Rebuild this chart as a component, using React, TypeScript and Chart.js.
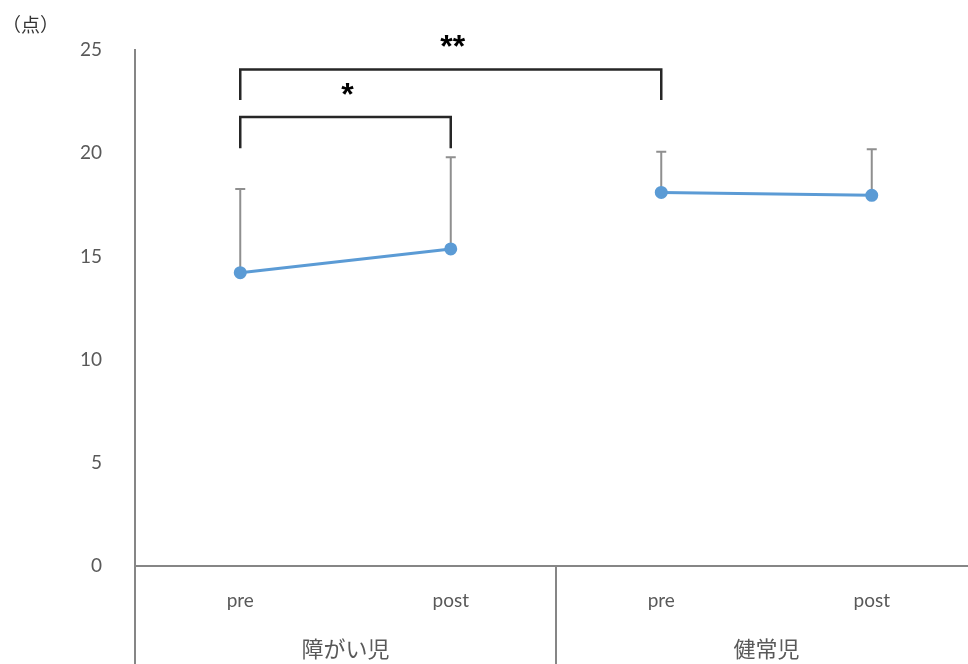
import React, { useEffect, useRef } from 'react';
import { Chart, registerables } from 'chart.js';

Chart.register(...registerables);

const categories = ['pre', 'post', 'pre', 'post'];
const groupLabels = ['障がい児', '健常児'];
const means = [14.21, 15.36, 18.1, 17.96];
const sdUpper = [4.06, 4.44, 1.97, 2.23];
const yMin = 0;
const yMax = 25;
const yStep = 5;
const bracketFrom = [0, 0];
const bracketTo = [2, 1];
const bracketTop = [24.05, 21.75];
const bracketLegEnd = [22.58, 20.24];
const bracketMarks = ['**', '*'];
const unitLabel = '（点）';

const disabledSeries = means.map((v, i) => (i < 2 ? v : null));
const typicalSeries = means.map((v, i) => (i >= 2 ? v : null));

const BLUE = '#5b9bd5';
const AXIS = '#868686';
const TEXT = '#595959';
const CANVAS_W = 985;
const CANVAS_H = 664;

const overlayPlugin = {
  id: 'overlay',
  beforeDatasetsDraw(chart: any) {
    const { ctx, scales } = chart;
    const x = scales.x;
    const y = scales.y;
    ctx.save();
    ctx.strokeStyle = '#8f8f8f';
    ctx.lineWidth = 2;
    means.forEach((m, i) => {
      const px = x.getPixelForValue(i);
      const py0 = y.getPixelForValue(m);
      const py1 = y.getPixelForValue(m + sdUpper[i]);
      ctx.beginPath();
      ctx.moveTo(px, py0);
      ctx.lineTo(px, py1);
      ctx.moveTo(px - 5, py1);
      ctx.lineTo(px + 5, py1);
      ctx.stroke();
    });
    ctx.restore();
  },
  afterDraw(chart: any) {
    const { ctx, scales, chartArea, height } = chart;
    const x = scales.x;
    const y = scales.y;
    ctx.save();
    ctx.strokeStyle = AXIS;
    ctx.lineWidth = 2;
    ctx.beginPath();
    ctx.moveTo(chartArea.left, chartArea.bottom);
    ctx.lineTo(chartArea.left, height);
    const divX = (x.getPixelForValue(1) + x.getPixelForValue(2)) / 2;
    ctx.moveTo(divX, chartArea.bottom);
    ctx.lineTo(divX, height);
    ctx.stroke();

    ctx.fillStyle = TEXT;
    ctx.font = '22px "Noto Sans CJK JP"';
    ctx.textAlign = 'center';
    ctx.textBaseline = 'middle';
    groupLabels.forEach((g, gi) => {
      const cx = (x.getPixelForValue(gi * 2) + x.getPixelForValue(gi * 2 + 1)) / 2;
      ctx.fillText(g, cx, chartArea.bottom + 83);
    });

    ctx.strokeStyle = '#262626';
    ctx.lineWidth = 2.5;
    bracketFrom.forEach((f, i) => {
      const x0 = x.getPixelForValue(f);
      const x1 = x.getPixelForValue(bracketTo[i]);
      const yt = y.getPixelForValue(bracketTop[i]);
      const yb = y.getPixelForValue(bracketLegEnd[i]);
      ctx.beginPath();
      ctx.moveTo(x0, yb);
      ctx.lineTo(x0, yt);
      ctx.lineTo(x1, yt);
      ctx.lineTo(x1, yb);
      ctx.stroke();
      ctx.fillStyle = '#000000';
      ctx.font = 'bold 32px "Liberation Sans"';
      ctx.textAlign = 'center';
      ctx.textBaseline = 'middle';
      ctx.fillText(bracketMarks[i], (x0 + x1) / 2 + 2, yt - 21);
    });

    ctx.fillStyle = '#333333';
    ctx.font = '19px "Noto Sans CJK JP"';
    ctx.textAlign = 'left';
    ctx.textBaseline = 'middle';
    ctx.fillText(unitLabel, 2, 25);
    ctx.restore();
  },
};

export default function App() {
  const canvasRef = useRef<HTMLCanvasElement | null>(null);

  useEffect(() => {
    const canvas = canvasRef.current;
    if (!canvas) return;
    const chart = new Chart(canvas, {
      type: 'line',
      data: {
        labels: categories,
        datasets: [
          {
            label: '障がい児',
            data: disabledSeries,
            borderColor: BLUE,
            backgroundColor: BLUE,
            borderWidth: 3,
            pointRadius: 5,
            pointHoverRadius: 5,
            pointBackgroundColor: BLUE,
            pointBorderColor: BLUE,
            spanGaps: false,
            tension: 0,
          },
          {
            label: '健常児',
            data: typicalSeries,
            borderColor: BLUE,
            backgroundColor: BLUE,
            borderWidth: 3,
            pointRadius: 5,
            pointHoverRadius: 5,
            pointBackgroundColor: BLUE,
            pointBorderColor: BLUE,
            spanGaps: false,
            tension: 0,
          },
        ],
      },
      options: {
        responsive: false,
        maintainAspectRatio: false,
        animation: false,
        devicePixelRatio: 1,
        layout: { padding: { top: 50, left: 0, right: 0, bottom: 0 } },
        plugins: {
          legend: { display: false },
          tooltip: { enabled: false },
          title: { display: false },
        },
        scales: {
          x: {
            type: 'category',
            offset: true,
            grid: { display: false },
            border: { display: true, color: AXIS, width: 2 },
            ticks: {
              color: TEXT,
              font: { family: 'Lato', size: 19 },
              padding: 15,
              maxRotation: 0,
            },
            afterFit(scale: any) {
              scale.height = 98;
            },
          },
          y: {
            min: yMin,
            max: yMax,
            grid: { display: false },
            border: { display: true, color: AXIS, width: 2 },
            ticks: {
              stepSize: yStep,
              color: TEXT,
              font: { family: 'Lato', size: 19 },
              padding: 25,
            },
            afterFit(scale: any) {
              scale.width = 135;
            },
          },
        },
      },
      plugins: [overlayPlugin],
    });
    return () => chart.destroy();
  }, []);

  return (
    <div
      style={{
        position: 'fixed',
        left: 0,
        top: 0,
        width: 968,
        height: CANVAS_H,
        overflow: 'hidden',
        background: '#ffffff',
      }}
    >
      <div style={{ width: CANVAS_W, height: CANVAS_H }}>
        <canvas
          ref={canvasRef}
          width={CANVAS_W}
          height={CANVAS_H}
          style={{ display: 'block', width: CANVAS_W, height: CANVAS_H }}
        />
      </div>
    </div>
  );
}
